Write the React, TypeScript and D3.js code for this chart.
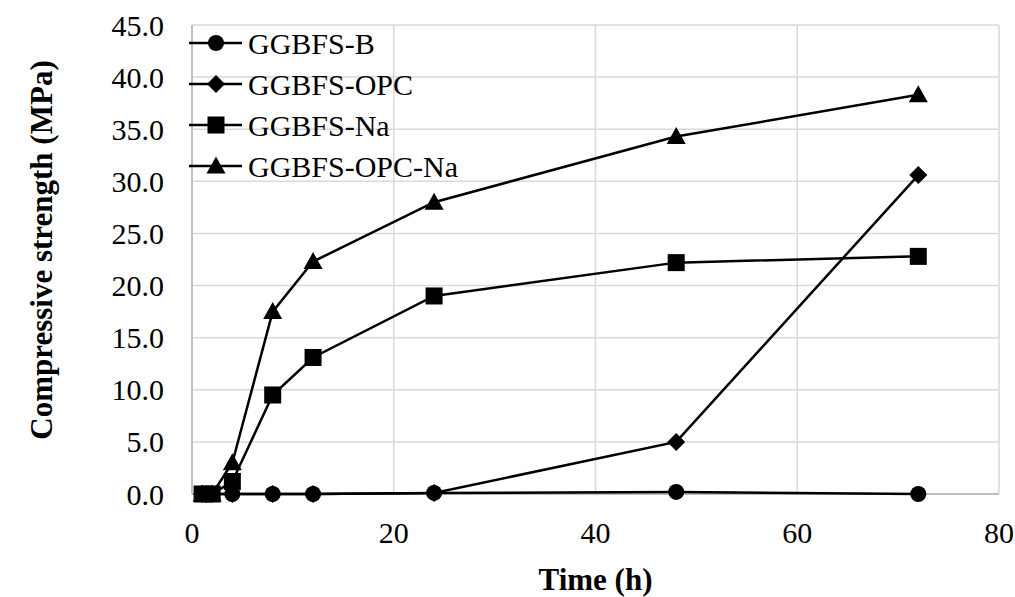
import React from "react";
import * as d3 from "d3";

const times = [1, 2, 4, 8, 12, 24, 48, 72];
const seriesNames = ["GGBFS-B", "GGBFS-OPC", "GGBFS-Na", "GGBFS-OPC-Na"];
const ggbfsB = [0, 0, 0, 0, 0, 0.1, 0.2, 0];
const ggbfsOPC = [0, 0, 0, 0, 0, 0.1, 5.0, 30.6];
const ggbfsNa = [0, 0, 1.2, 9.5, 13.1, 19.0, 22.2, 22.8];
const ggbfsOPCNa = [0, 0, 3.0, 17.5, 22.3, 28.0, 34.3, 38.3];
const markers = ["circle", "diamond", "square", "triangle"];
const xTicks = [0, 20, 40, 60, 80];
const yTicks = [0, 5, 10, 15, 20, 25, 30, 35, 40, 45];

const W = 1015;
const H = 597;
const L = 192, R = 999, T = 25, B = 494;
const FONT = "Liberation Serif, Times New Roman, serif";
const txt = { fontFamily: FONT };

function Marker({ type, x, y }: { type: string; x: number; y: number }) {
  if (type === "circle") return <circle cx={x} cy={y} r={8} fill="#000" />;
  if (type === "square") return <rect x={x - 8.5} y={y - 8.5} width={17} height={17} fill="#000" />;
  if (type === "diamond")
    return <path d={`M${x},${y - 9}L${x + 9},${y}L${x},${y + 9}L${x - 9},${y}Z`} fill="#000" />;
  return <path d={`M${x},${y - 9.5}L${x + 9.5},${y + 7.5}L${x - 9.5},${y + 7.5}Z`} fill="#000" />;
}

export default function App() {
  const x = d3.scaleLinear().domain([0, 80]).range([L, R]);
  const y = d3.scaleLinear().domain([0, 45]).range([B, T]);
  const all = [ggbfsB, ggbfsOPC, ggbfsNa, ggbfsOPCNa];
  const line = d3
    .line<[number, number]>()
    .x((d) => x(d[0]))
    .y((d) => y(d[1]));
  const legendY = [43, 84, 125, 166];
  return (
    <svg width={W} height={H} style={{ display: "block", position: "absolute", left: 0, top: 0 }}>
      <rect width={W} height={H} fill="#fff" />
      {yTicks.map((t) => (
        <line key={"gy" + t} x1={L} x2={R} y1={y(t)} y2={y(t)} stroke="#d9d9d9" strokeWidth={1.5} />
      ))}
      {xTicks.map((t) => (
        <line key={"gx" + t} x1={x(t)} x2={x(t)} y1={T} y2={B} stroke="#d9d9d9" strokeWidth={1.5} />
      ))}
      <line x1={L} x2={L} y1={T} y2={B} stroke="#bfbfbf" strokeWidth={2} />
      <line x1={L} x2={R} y1={B} y2={B} stroke="#bfbfbf" strokeWidth={2} />
      {yTicks.map((t) => (
        <text key={"yl" + t} x={164} y={y(t)} dy="0.35em" textAnchor="end" fontSize={30} fill="#000" style={txt}>
          {t.toFixed(1)}
        </text>
      ))}
      {xTicks.map((t) => (
        <text key={"xl" + t} x={x(t)} y={532} dy="0.35em" textAnchor="middle" fontSize={30} fill="#000" style={txt}>
          {t}
        </text>
      ))}
      <text x={x(40)} y={579} dy="0.35em" textAnchor="middle" fontSize={31} fontWeight="bold" fill="#000" style={txt}>
        Time (h)
      </text>
      <text
        transform={`translate(41,250) rotate(-90)`}
        dy="0.35em"
        textAnchor="middle"
        fontSize={31}
        fontWeight="bold"
        fill="#000"
        style={txt}
      >
        Compressive strength (MPa)
      </text>
      {all.map((vals, si) => {
        const pts = times.map((t, i) => [t, vals[i]] as [number, number]);
        return (
          <g key={"s" + si}>
            <path d={line(pts) || ""} fill="none" stroke="#000" strokeWidth={2.5} />
            {pts.map((p, i) => (
              <Marker key={i} type={markers[si]} x={x(p[0])} y={y(p[1])} />
            ))}
          </g>
        );
      })}
      {seriesNames.map((n, i) => (
        <g key={"lg" + i}>
          <line x1={189} x2={242} y1={legendY[i]} y2={legendY[i]} stroke="#000" strokeWidth={2.5} />
          <Marker type={markers[i]} x={216} y={legendY[i]} />
          <text x={248} y={legendY[i]} dy="0.35em" fontSize={30} fill="#000" style={txt}>
            {n}
          </text>
        </g>
      ))}
    </svg>
  );
}
